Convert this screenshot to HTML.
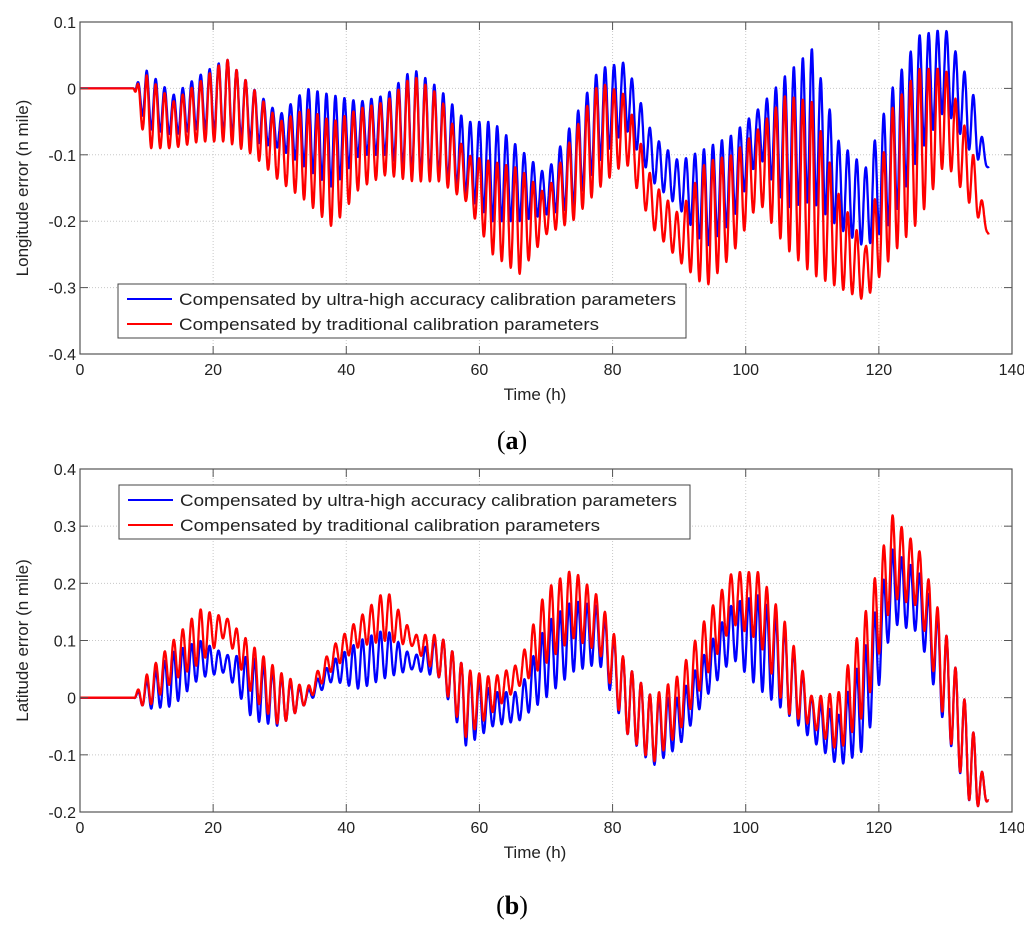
<!DOCTYPE html>
<html><head><meta charset="utf-8"><style>
html,body{margin:0;padding:0;background:#fff;}
svg{display:block;font-family:"Liberation Sans",Arial,sans-serif;}
</style></head><body>
<svg id="fig" width="1024" height="927" viewBox="0 0 1024 927"></svg>
<script>
// ---- Shared time samples (h) ----
const times = [8,10,14,18,22,26,30,34,38,42,46,50,54,58,62,66,70,74,78,82,86,90,94,98,102,106,110,114,118,122,126,130,134,136.5];
const xTicks = [0,20,40,60,80,100,120,140];
const oscPeriod = 1.35;
// ---- Panel (a) Longitude error envelopes ----
const aBlueHi = [0,0.027,-0.01,0.02,0.045,0,-0.04,0,-0.01,-0.02,-0.01,0.03,0,-0.05,-0.05,-0.09,-0.13,-0.05,0.03,0.04,-0.07,-0.11,-0.09,-0.07,-0.03,0.02,0.06,-0.08,-0.12,0,0.08,0.09,0,-0.12];
const aBlueLo = [0,-0.06,-0.07,-0.06,-0.07,-0.08,-0.09,-0.12,-0.15,-0.1,-0.1,-0.13,-0.13,-0.16,-0.2,-0.2,-0.19,-0.18,-0.11,-0.06,-0.14,-0.18,-0.24,-0.2,-0.1,-0.18,-0.17,-0.21,-0.24,-0.2,-0.1,-0.03,-0.1,-0.12];
const aRedHi = [0,0.02,-0.02,0.01,0.045,0,-0.05,-0.03,-0.05,-0.03,-0.02,0.02,-0.01,-0.1,-0.11,-0.12,-0.16,-0.07,0.01,-0.01,-0.14,-0.19,-0.11,-0.1,-0.06,-0.01,-0.02,-0.16,-0.24,-0.03,0.03,0.03,-0.09,-0.22];
const aRedLo = [0,-0.09,-0.09,-0.08,-0.08,-0.1,-0.14,-0.17,-0.21,-0.15,-0.13,-0.14,-0.14,-0.17,-0.25,-0.28,-0.22,-0.2,-0.15,-0.11,-0.21,-0.26,-0.3,-0.25,-0.17,-0.24,-0.28,-0.3,-0.32,-0.25,-0.2,-0.11,-0.18,-0.22];
const aYTicks = [0.1,0,-0.1,-0.2,-0.3,-0.4];
// ---- Panel (b) Latitude error envelopes ----
const bRedHi = [0,0.04,0.1,0.155,0.14,0.09,0.045,0.015,0.09,0.14,0.19,0.11,0.11,0.05,0.035,0.06,0.19,0.225,0.175,0.06,0,0.04,0.14,0.22,0.22,0.13,0,0.01,0.15,0.32,0.26,0.115,-0.05,-0.18];
const bRedLo = [0,-0.02,0.03,0.06,0.11,0,-0.05,-0.01,0.05,0.09,0.1,0.09,0.035,-0.07,-0.025,0.02,0.06,0.105,0.08,-0.06,-0.115,-0.06,0.035,0.13,0.1,-0.025,-0.05,-0.095,-0.025,0.175,0.16,-0.05,-0.195,-0.18];
const bBlueHi = [0,0.03,0.08,0.1,0.075,0.07,0.04,0.01,0.065,0.1,0.12,0.07,0.11,0.05,0.01,0.01,0.13,0.17,0.16,0.06,0,0,0.08,0.165,0.18,0.12,0,-0.03,0.09,0.26,0.22,0.115,-0.05,-0.18];
const bBlueLo = [0,-0.02,-0.015,0.035,0.045,-0.04,-0.05,-0.01,0.03,0.015,0.035,0.05,0.035,-0.085,-0.05,-0.04,0,0.045,0.06,-0.06,-0.12,-0.085,0,0.07,0.015,-0.025,-0.075,-0.12,-0.09,0.13,0.115,-0.055,-0.195,-0.18];
const bYTicks = [0.4,0.3,0.2,0.1,0,-0.1,-0.2];

const NS="http://www.w3.org/2000/svg";
const svg=document.getElementById('fig');
function el(tag,attrs,parent){const e=document.createElementNS(NS,tag);for(const k in attrs)e.setAttribute(k,attrs[k]);(parent||svg).appendChild(e);return e;}
function interp(arr,t){if(t<=times[0])return arr[0];for(let i=1;i<times.length;i++){if(t<=times[i]){const f=(t-times[i-1])/(times[i]-times[i-1]);return arr[i-1]+f*(arr[i]-arr[i-1]);}}return arr[arr.length-1];}

function panel(cfg){
  const g=el('g',{});
  
  
  const L=80,R=1012,T=cfg.top,B=cfg.bottom;
  const ymax=cfg.yTicks[0],ymin=cfg.yTicks[cfg.yTicks.length-1];
  const xs=t=>L+(t-0)/(140-0)*(R-L);
  const ys=v=>T+(ymax-v)/(ymax-ymin)*(B-T);
  el('rect',{x:L,y:T,width:R-L,height:B-T,fill:'#fff'},g);
  xTicks.forEach(t=>{if(t>0&&t<140){const l=el('line',{x1:xs(t),x2:xs(t),y1:T,y2:B,stroke:'#c8c8c8','stroke-width':1,'stroke-dasharray':'1,2'},g);}});
  cfg.yTicks.forEach(v=>{if(v<ymax&&v>ymin){const l=el('line',{x1:L,x2:R,y1:ys(v),y2:ys(v),stroke:'#c8c8c8','stroke-width':1,'stroke-dasharray':'1,2'},g);}});
  cfg.series.forEach(s=>{
    let d='M'+xs(0).toFixed(1)+','+ys(0).toFixed(1)+' L'+xs(times[0]).toFixed(1)+','+ys(0).toFixed(1);
    for(let t=times[0];t<=times[times.length-1];t+=0.05){
      const hi=interp(s.hi,t),lo=interp(s.lo,t);
      const ph=Math.cos(2*Math.PI*(t-times[0])/oscPeriod+Math.PI);
      const ramp=Math.min(1,(t-times[0])/0.4);
      const v=((hi+lo)/2+(hi-lo)/2*ph)*ramp;
      d+=' L'+xs(t).toFixed(1)+','+ys(v).toFixed(1);
    }
    const p=el('path',{d:d,fill:'none',stroke:s.color,'stroke-width':2.3,'stroke-linejoin':'round'},g);
    
    
  });
  const box=el('rect',{x:L,y:T,width:R-L,height:B-T,fill:'none',stroke:'#555','stroke-width':1.2},g);
  
  
  xTicks.forEach(t=>{
    el('line',{x1:xs(t),x2:xs(t),y1:B,y2:B-8,stroke:'#555'},g);
    el('line',{x1:xs(t),x2:xs(t),y1:T,y2:T+8,stroke:'#555'},g);
    const tx=el('text',{x:xs(t),y:B+21,'font-size':16,'text-anchor':'middle',fill:'#222'},g);
    tx.textContent=t;
    
    
  });
  cfg.yTicks.forEach(v=>{
    el('line',{x1:L,x2:L+8,y1:ys(v),y2:ys(v),stroke:'#555'},g);
    el('line',{x1:R,x2:R-8,y1:ys(v),y2:ys(v),stroke:'#555'},g);
    const tx=el('text',{x:L-4,y:ys(v)+6,'font-size':16,'text-anchor':'end',fill:'#222'},g);
    tx.textContent=(Math.round(v*10)/10).toString();
    
    
  });
  const xl=el('text',{x:535,y:B+46,'font-size':17,'text-anchor':'middle',fill:'#222'},g);
  xl.textContent='Time (h)';
  
  
  const yl=el('text',{x:0,y:0,'font-size':17,'text-anchor':'middle',fill:'#222',transform:'translate(28,'+((T+B)/2)+') rotate(-90)'},g);
  yl.textContent=cfg.ylabel;
  
  
  const lg=el('g',{},g);
  
  
  el('rect',{x:cfg.lx,y:cfg.ly,width:cfg.lw,height:54,fill:'#fff',stroke:'#444','stroke-width':1},lg);
  const entries=[['#0000ff','Compensated by ultra-high accuracy calibration parameters',497,'legend-entry-ultra-high'],['#ff0000','Compensated by traditional calibration parameters',420,'legend-entry-traditional']];
  entries.forEach((e,i)=>{
    const yy=cfg.ly+15+i*25;
    const ent=el('g',{},lg);
    
    
    el('line',{x1:cfg.lx+9,x2:cfg.lx+54,y1:yy,y2:yy,stroke:e[0],'stroke-width':2},ent);
    const tx=el('text',{x:cfg.lx+61,y:yy+6,'font-size':17,fill:'#222',textLength:e[2],lengthAdjust:'spacingAndGlyphs'},ent);
    tx.textContent=e[1];
  });
  const cap=el('text',{x:512,y:cfg.capY,'font-size':26,'text-anchor':'middle',fill:'#000','font-family':'"Liberation Serif",serif'},g);
  cap.innerHTML='(<tspan font-weight="bold">'+cfg.cap+'</tspan>)';
  
  
}

panel({name:'longitude-error-chart',top:22,bottom:354,yTicks:aYTicks,ylabel:'Longitude error (n mile)',lx:118,ly:284,lw:568,capY:449,cap:'a',
  series:[{hi:aBlueHi,lo:aBlueLo,color:'#0000ff',dname:'series-ultra-high-a'},{hi:aRedHi,lo:aRedLo,color:'#ff0000',dname:'series-traditional-a'}]});
panel({name:'latitude-error-chart',top:469,bottom:812,yTicks:bYTicks,ylabel:'Latitude error (n mile)',lx:119,ly:485,lw:571,capY:914,cap:'b',
  series:[{hi:bBlueHi,lo:bBlueLo,color:'#0000ff',dname:'series-ultra-high-b'},{hi:bRedHi,lo:bRedLo,color:'#ff0000',dname:'series-traditional-b'}]});
</script>
</body></html>
